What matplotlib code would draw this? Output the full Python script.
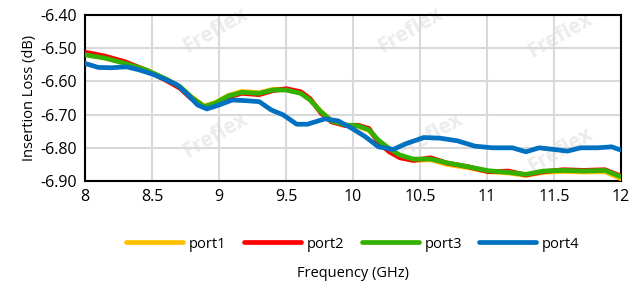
import matplotlib
matplotlib.use('Agg')
import matplotlib.pyplot as plt

plt.rcParams['font.family'] = ['Open Sans', 'DejaVu Sans']

# frequency points (GHz) shared by port1..port3
freq = [8.0, 8.15, 8.3, 8.46, 8.61, 8.71, 8.79, 8.89, 8.97, 9.07, 9.17, 9.3, 9.4,
        9.5, 9.61, 9.68, 9.76, 9.84, 9.94, 10.04, 10.12, 10.19, 10.27, 10.35, 10.45,
        10.58, 10.7, 10.86, 11.01, 11.16, 11.29, 11.42, 11.57, 11.72, 11.88, 12.0]

port1 = [-6.518, -6.529, -6.545, -6.566, -6.595, -6.617, -6.646, -6.674, -6.664, -6.642,
         -6.630, -6.634, -6.624, -6.624, -6.634, -6.655, -6.690, -6.719, -6.732, -6.736,
         -6.748, -6.780, -6.806, -6.826, -6.838, -6.836, -6.850, -6.860, -6.872, -6.876,
         -6.883, -6.874, -6.871, -6.873, -6.872, -6.893]
port2 = [-6.512, -6.524, -6.541, -6.567, -6.598, -6.621, -6.651, -6.677, -6.668, -6.647,
         -6.636, -6.640, -6.628, -6.622, -6.631, -6.652, -6.695, -6.722, -6.733, -6.732,
         -6.742, -6.784, -6.812, -6.830, -6.838, -6.830, -6.846, -6.857, -6.872, -6.870,
         -6.882, -6.872, -6.866, -6.868, -6.866, -6.885]
port3 = [-6.520, -6.530, -6.546, -6.566, -6.594, -6.616, -6.646, -6.676, -6.666, -6.644,
         -6.633, -6.636, -6.626, -6.626, -6.636, -6.656, -6.691, -6.719, -6.731, -6.734,
         -6.746, -6.777, -6.802, -6.822, -6.834, -6.834, -6.845, -6.857, -6.869, -6.874,
         -6.880, -6.870, -6.868, -6.870, -6.868, -6.887]

freq4 = [8.0, 8.1, 8.2, 8.31, 8.41, 8.51, 8.61, 8.69, 8.77, 8.84, 8.91, 9.0, 9.1,
         9.2, 9.3, 9.39, 9.48, 9.58, 9.66, 9.79, 9.89, 9.99, 10.09, 10.19, 10.3, 10.4,
         10.53, 10.65, 10.78, 10.91, 11.04, 11.19, 11.29, 11.39, 11.5, 11.6, 11.7,
         11.83, 11.93, 12.0]
port4 = [-6.546, -6.558, -6.559, -6.556, -6.566, -6.579, -6.596, -6.611, -6.641, -6.671,
         -6.683, -6.671, -6.656, -6.658, -6.661, -6.686, -6.701, -6.729, -6.729, -6.713,
         -6.719, -6.741, -6.766, -6.797, -6.805, -6.787, -6.769, -6.771, -6.779, -6.795,
         -6.800, -6.800, -6.812, -6.800, -6.805, -6.810, -6.800, -6.800, -6.797, -6.807]

series = [('port1', port1, freq, '#ffc000'),
          ('port2', port2, freq, '#ff0000'),
          ('port3', port3, freq, '#33b000'),
          ('port4', port4, freq4, '#0070c0')]

fig = plt.figure(figsize=(6.32, 2.88), dpi=100)
ax = fig.add_axes([0.1345, 0.3715, 0.848, 0.5765])
ax.set_zorder(1)

# faint watermark behind the plot
for (wx, wy) in [(215, 30), (410, 30), (560, 35), (215, 135), (430, 135), (560, 150)]:
    fig.text(wx / 632, 1 - wy / 288, 'Freflex', rotation=30, ha='center', va='center',
             color='#ececec', fontsize=15, fontweight='bold', zorder=-1)

for name, vals, fx, col in series:
    ax.plot(fx, vals, color=col, lw=3.4, label=name, solid_capstyle='round',
            solid_joinstyle='round', zorder=3)

ax.set_xlim(8, 12)
ax.set_ylim(-6.9, -6.4)
ax.set_xticks([8, 8.5, 9, 9.5, 10, 10.5, 11, 11.5, 12])
ax.set_xticklabels(['8', '8.5', '9', '9.5', '10', '10.5', '11', '11.5', '12'])
ax.set_yticks([-6.9, -6.8, -6.7, -6.6, -6.5, -6.4])
ax.set_yticklabels(['-6.90', '-6.80', '-6.70', '-6.60', '-6.50', '-6.40'])
ax.grid(True, color='#d9d9d9', lw=1.5)
ax.set_axisbelow(True)
ax.patch.set_alpha(0)
for s in ax.spines.values():
    s.set_linewidth(1.5)
    s.set_color('black')
ax.tick_params(length=0, labelsize=11.5, pad=6)

ax.set_ylabel('Insertion Loss (dB)', fontsize=10.5, labelpad=2)
ax.set_xlabel('Frequency (GHz)', fontsize=10.5, labelpad=44)

ax.legend(loc='center', bbox_to_anchor=(0.5, -0.38), ncol=4, frameon=False,
          fontsize=10.5, handlelength=3.9, handletextpad=0.4, columnspacing=1.2)

fig.savefig('out.png', dpi=100)
